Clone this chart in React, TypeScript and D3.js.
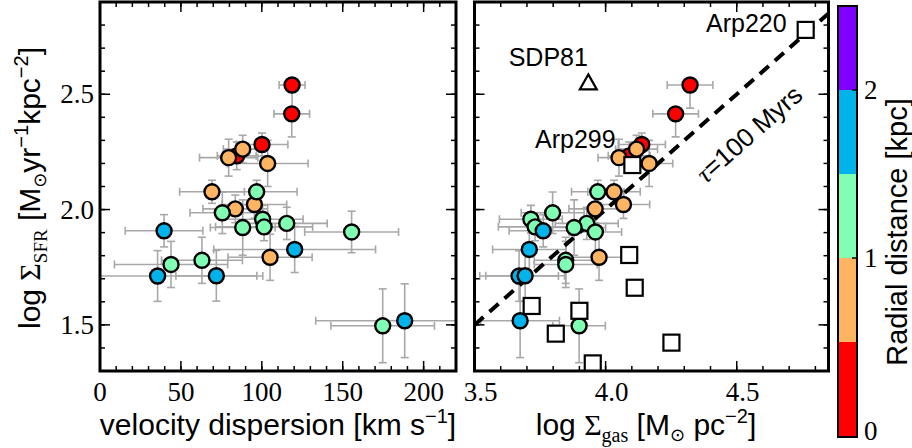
import React from 'react';
import * as d3 from 'd3';

// ---- data (shared ordering across both panels) ----
const radial = [0.25, 0.25, 0.25, 0.25, 0.75, 0.75, 0.75, 0.75, 0.75, 0.75, 0.75, 1.25, 1.25, 1.25, 1.25, 1.25, 1.25, 1.25, 1.25, 1.25, 1.25, 1.75, 1.75, 1.75, 1.75, 1.75];
const sfr = [2.54, 2.415, 2.282, 2.233, 2.262, 2.225, 2.2, 2.077, 2.022, 2.003, 1.793, 2.077, 1.986, 1.958, 1.94, 1.925, 1.922, 1.903, 1.78, 1.762, 1.496, 1.908, 1.827, 1.712, 1.713, 1.518];
const sfrErrLo = [0.1, 0.1, 0.05, 0.06, 0.06, 0.08, 0.1, 0.05, 0.06, 0.06, 0.1, 0.05, 0.09, 0.06, 0.07, 0.06, 0.12, 0.09, 0.1, 0.1, 0.16, 0.07, 0.1, 0.11, 0.11, 0.16];
const sfrErrHi = [0, 0, 0.05, 0.06, 0.06, 0.08, 0.1, 0.05, 0.06, 0.06, 0.1, 0.05, 0.09, 0.06, 0.07, 0.06, 0.12, 0.09, 0.1, 0.1, 0.16, 0.07, 0.1, 0.11, 0.11, 0.16];
const sigma = [118.7, 118.5, 100.1, 84.5, 88.2, 79.5, 103.6, 69.2, 95.4, 83.6, 105.1, 96.8, 75.6, 100.5, 115.4, 101.4, 88.2, 155.5, 63.0, 43.9, 174.7, 39.6, 120.3, 35.6, 71.9, 188.3];
const sigmaErr = [8, 11, 16, 12, 12, 18, 25, 20, 20, 20, 26, 25, 20, 25, 25, 30, 20, 29, 25, 35, 32, 24, 50, 65, 25, 55];
const gas = [4.322, 4.267, 4.138, 4.09, 4.118, 4.051, 4.166, 4.032, 4.068, 3.96, 3.975, 3.97, 3.798, 3.715, 3.928, 3.731, 3.88, 3.961, 3.848, 3.848, 3.899, 3.762, 3.709, 3.67, 3.693, 3.674];
const gasErr = [0.087, 0.087, 0.09, 0.08, 0.08, 0.08, 0.09, 0.1, 0.1, 0.1, 0.12, 0.1, 0.12, 0.12, 0.12, 0.14, 0.12, 0.1, 0.12, 0.12, 0.1, 0.13, 0.14, 0.15, 0.15, 0.15];

// comparison galaxies (squares) on the right panel
const sqGas = [4.763, 4.102, 4.09, 4.111, 3.718, 3.9, 3.81, 4.251, 3.951, 3.53];
const sqSfr = [2.779, 2.193, 1.803, 1.661, 1.582, 1.561, 1.462, 1.423, 1.333, 1.262];
const triGas = [3.934];
const triSfr = [2.547];

const labels = [
  { text: 'Arp220', gas: 4.763, sfr: 2.779 },
  { text: 'SDP81', gas: 3.934, sfr: 2.547 },
  { text: 'Arp299', gas: 4.102, sfr: 2.193 },
];

const xTicksL = [0, 50, 100, 150, 200];
const xTicksR = [3.5, 4.0, 4.5];
const yTicks = [1.5, 2.0, 2.5];
const cbTicks = [0, 1, 2];
const cbBounds = [0, 0.5, 1, 1.5, 2, 2.5];
const cbColors = ['#ff0000', '#ffb462', '#80ffb4', '#00b4eb', '#8000ff'];

const SANS = "'Liberation Sans', Arial, sans-serif";
const SERIF = "'Liberation Serif', 'DejaVu Serif', serif";
const SYM = "'DejaVu Sans', sans-serif";

const TOP = 2, BOT = 371;
const y = d3.scaleLinear().domain([1.3, 2.9]).range([BOT, TOP]);
const xL = d3.scaleLinear().domain([0, 220]).range([100, 456]);
const xR = d3.scaleLinear().domain([3.5, 4.85]).range([474.5, 828.5]);
const color = d3.scaleThreshold<number, string>().domain([0.5, 1, 1.5, 2]).range(cbColors);
const cbY = d3.scaleLinear().domain(cbBounds).range([437, 342, 258, 174, 90, 6]);

function Frame({ x, minorX, majorX }: any) {
  const [x0, x1] = x.range();
  const minorY = d3.range(1.3, 2.9001, 0.1);
  const els: any[] = [];
  minorX.forEach((v: number, i: number) => {
    const px = x(v);
    els.push(<line key={'bx' + i} x1={px} x2={px} y1={BOT} y2={BOT - 5} />);
    els.push(<line key={'tx' + i} x1={px} x2={px} y1={TOP} y2={TOP + 5} />);
  });
  majorX.forEach((v: number, i: number) => {
    const px = x(v);
    els.push(<line key={'bX' + i} x1={px} x2={px} y1={BOT} y2={BOT - 10} />);
    els.push(<line key={'tX' + i} x1={px} x2={px} y1={TOP} y2={TOP + 10} />);
  });
  minorY.forEach((v: number, i: number) => {
    const py = y(v);
    els.push(<line key={'ly' + i} x1={x0} x2={x0 + 5} y1={py} y2={py} />);
    els.push(<line key={'ry' + i} x1={x1} x2={x1 - 5} y1={py} y2={py} />);
  });
  yTicks.forEach((v: number, i: number) => {
    const py = y(v);
    els.push(<line key={'lY' + i} x1={x0} x2={x0 + 10} y1={py} y2={py} />);
    els.push(<line key={'rY' + i} x1={x1} x2={x1 - 10} y1={py} y2={py} />);
  });
  return (
    <g>
      <g stroke="#000" strokeWidth={1.5}>{els}</g>
      <rect x={x0} y={TOP} width={x1 - x0} height={BOT - TOP} fill="none" stroke="#000" strokeWidth={3} />
    </g>
  );
}

function ErrBars({ xs, ys, xe, yLo, yHi, x, clip }: any) {
  const cap = 4;
  return (
    <g stroke="#a8a8a8" strokeWidth={1.6} clipPath={`url(#${clip})`}>
      {xs.map((v: number, i: number) => {
        const px = x(v), py = y(ys[i]);
        const xa = x(v - xe[i]), xb = x(v + xe[i]);
        const ya = y(ys[i] + yHi[i]), yb = y(ys[i] - yLo[i]);
        return (
          <g key={i}>
            <line x1={xa} x2={xb} y1={py} y2={py} />
            <line x1={xa} x2={xa} y1={py - cap} y2={py + cap} />
            <line x1={xb} x2={xb} y1={py - cap} y2={py + cap} />
            {yHi[i] > 0 && <line x1={px} x2={px} y1={py} y2={ya} />}
            {yHi[i] > 0 && <line x1={px - cap} x2={px + cap} y1={ya} y2={ya} />}
            {yLo[i] > 0 && <line x1={px} x2={px} y1={py} y2={yb} />}
            {yLo[i] > 0 && <line x1={px - cap} x2={px + cap} y1={yb} y2={yb} />}
          </g>
        );
      })}
    </g>
  );
}

function Dots({ xs, x, clip }: any) {
  return (
    <g clipPath={`url(#${clip})`}>
      {xs.map((v: number, i: number) => (
        <circle key={i} cx={x(v)} cy={y(sfr[i])} r={7.5} fill={color(radial[i])} stroke="#000" strokeWidth={2.4} />
      ))}
    </g>
  );
}

export default function App() {
  const minorL = d3.range(0, 221, 10);
  const minorR = d3.range(3.5, 4.851, 0.1);
  const lineG = [3.5, 4.85];
  const tauAngle = (Math.atan2(y(3.0) - y(2.0), xR(5.0) - xR(4.0)) * 180) / Math.PI;
  return (
    <svg width={912} height={448} style={{ position: 'absolute', left: 0, top: 0, background: '#fff' }}>
      <defs>
        <clipPath id="cl"><rect x={100} y={TOP} width={356} height={BOT - TOP} /></clipPath>
        <clipPath id="cr"><rect x={474.5} y={TOP} width={354} height={BOT - TOP} /></clipPath>
      </defs>
      <rect width={912} height={448} fill="#fff" />

      {/* left panel */}
      <ErrBars xs={sigma} ys={sfr} xe={sigmaErr} yLo={sfrErrLo} yHi={sfrErrHi} x={xL} clip="cl" />
      <Dots xs={sigma} x={xL} clip="cl" />
      <Frame x={xL} minorX={minorL} majorX={xTicksL} />

      {/* right panel */}
      <ErrBars xs={gas} ys={sfr} xe={gasErr} yLo={sfrErrLo} yHi={sfrErrHi} x={xR} clip="cr" />
      <g clipPath="url(#cr)">
        <line x1={xR(lineG[0])} y1={y(lineG[0] - 2)} x2={xR(lineG[1])} y2={y(lineG[1] - 2)} stroke="#000" strokeWidth={4} strokeDasharray="12,8" />
      </g>
      <Dots xs={gas} x={xR} clip="cr" />
      <g clipPath="url(#cr)">
        {sqGas.map((g, i) => (
          <rect key={i} x={xR(g) - 8} y={y(sqSfr[i]) - 8} width={16} height={16} fill="#fff" stroke="#000" strokeWidth={2.2} />
        ))}
        {triGas.map((g, i) => {
          const cx = xR(g), cy = y(triSfr[i]);
          return <path key={i} d={`M${cx},${cy - 9}L${cx + 8.5},${cy + 6}L${cx - 8.5},${cy + 6}Z`} fill="none" stroke="#000" strokeWidth={2.2} />;
        })}
      </g>
      <Frame x={xR} minorX={minorR} majorX={xTicksR} />

      {/* annotations */}
      <g fontFamily={SANS} fontSize={25} fill="#000">
        <text x={xR(labels[0].gas) - 19} y={y(labels[0].sfr) + 2} textAnchor="end">{labels[0].text}</text>
        <text x={xR(labels[1].gas) - 40} y={y(labels[1].sfr) - 17} textAnchor="middle">{labels[1].text}</text>
        <text x={xR(labels[2].gas) - 57} y={y(labels[2].sfr) - 17} textAnchor="middle">{labels[2].text}</text>
        <text transform={`translate(749,134) rotate(${tauAngle})`} textAnchor="middle" dy="0.35em" fontSize={26}>
          <tspan fontFamily={SERIF} fontStyle="italic">τ</tspan>=100 Myrs
        </text>
      </g>

      {/* tick labels */}
      <g fontFamily={SERIF} fontSize={27} fill="#000">
        {xTicksL.map((v) => (
          <text key={'l' + v} x={xL(v)} y={401} textAnchor="middle">{String(v)}</text>
        ))}
        {xTicksR.map((v) => (
          <text key={'r' + v} x={xR(v) + 6} y={401} textAnchor="middle">{v.toFixed(1)}</text>
        ))}
        {yTicks.map((v) => (
          <text key={'y' + v} x={94} y={y(v)} dy="0.34em" textAnchor="end">{v.toFixed(1)}</text>
        ))}
      </g>

      {/* axis labels */}
      <text x={278} y={435} textAnchor="middle" fontFamily={SANS} fontSize={30}>
        velocity dispersion [km s<tspan fontSize={20} dy={-12}>−1</tspan><tspan dy={12}>]</tspan>
      </text>
      <text x={646} y={435} textAnchor="middle" fontFamily={SANS} fontSize={30}>
        log <tspan fontFamily={SERIF}>Σ</tspan><tspan fontFamily={SERIF} fontSize={20} dy={7}>gas</tspan><tspan dy={-7}> [M</tspan><tspan fontFamily={SYM} fontSize={18} dy={6}>⊙</tspan><tspan dy={-6}> pc</tspan><tspan fontSize={20} dy={-12}>−2</tspan><tspan dy={12}>]</tspan>
      </text>
      <text transform="translate(40,188) rotate(-90)" textAnchor="middle" fontFamily={SANS} fontSize={30}>
        log <tspan fontFamily={SERIF}>Σ</tspan><tspan fontFamily={SERIF} fontSize={19} dy={7}>SFR</tspan><tspan dy={-7}> [M</tspan><tspan fontFamily={SYM} fontSize={18} dy={6}>⊙</tspan><tspan dy={-6}>yr</tspan><tspan fontSize={20} dy={-12}>−1</tspan><tspan dy={12}>kpc</tspan><tspan fontSize={20} dy={-12}>−2</tspan><tspan dy={12}>]</tspan>
      </text>

      {/* colorbar */}
      <g>
        {cbColors.map((c, i) => (
          <rect key={i} x={838} y={cbY(cbBounds[i + 1])} width={19} height={cbY(cbBounds[i]) - cbY(cbBounds[i + 1])} fill={c} />
        ))}
        <rect x={838} y={cbY(2.5)} width={19} height={cbY(0) - cbY(2.5)} fill="none" stroke="#000" strokeWidth={2} />
        {cbTicks.map((t) => (
          <line key={t} x1={857} x2={852} y1={cbY(t)} y2={cbY(t)} stroke="#000" strokeWidth={1.5} />
        ))}
        {cbTicks.map((t) => (
          <text key={'t' + t} x={864} y={cbY(t)} dy={t === 0 ? '0.1em' : '0.34em'} fontFamily={SERIF} fontSize={27}>{String(t)}</text>
        ))}
        <text transform="translate(907,232) rotate(-90)" textAnchor="middle" fontFamily={SANS} fontSize={29}>Radial distance [kpc]</text>
      </g>
    </svg>
  );
}
